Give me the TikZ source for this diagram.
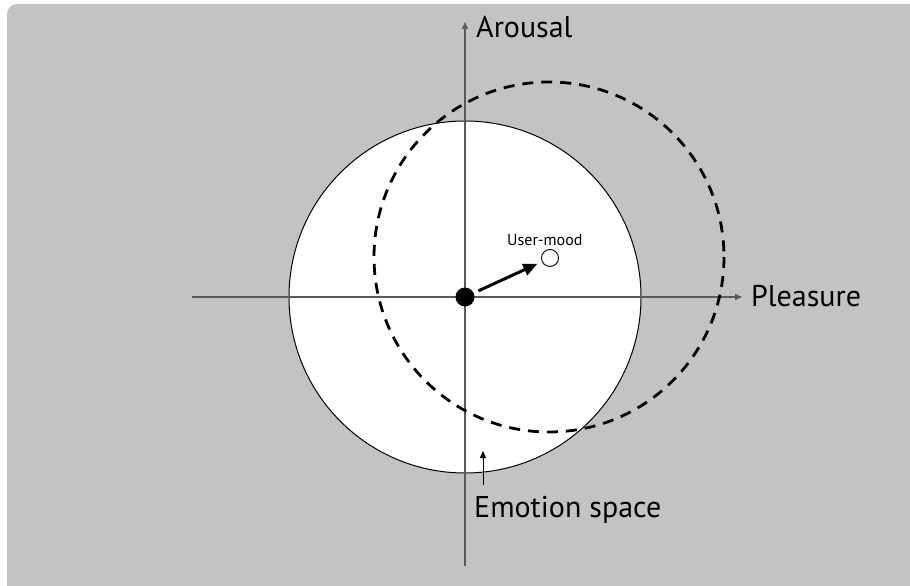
\documentclass[tikz,border=0pt]{standalone}
\usepackage{fontspec}
\setmainfont{PT Sans}
\usetikzlibrary{arrows.meta}
\definecolor{bggray}{HTML}{C2C3C2}
\definecolor{axisgray}{HTML}{5A5A5A}
\tikzset{
  axisline/.style={draw=axisgray, line width=1.3pt, -{Triangle[length=7pt,width=6pt]}},
  bigtext/.style={font=\fontsize{30}{33}\selectfont, inner sep=0pt},
  smalltext/.style={font=\fontsize{16}{18}\selectfont, inner sep=0pt},
  dashcircle/.style={draw=black, line width=2.8pt, dash pattern=on 11pt off 8pt},
}
\begin{document}
\begin{tikzpicture}[x=1pt,y=-1pt]
\useasboundingbox (0,0) rectangle (910,586);
\fill[bggray, rounded corners=10pt] (7,4) rectangle (925,600);
% emotion space circle
\draw[fill=white, line width=1pt] (465,297) circle[radius=176];
% axes
\coordinate (xl) at (192,297);
\coordinate (xr) at (742,297);
\coordinate (yb) at (465,566);
\coordinate (yt) at (465,22);
\draw[axisline] (xl) -- (xr);
\draw[axisline] (yb) -- (yt);
% dashed circle
\draw[dashcircle] (549,257) circle[radius=175];
% labels
\node[bigtext, anchor=base west] (arousal) at (476,38) {Arousal};
\node[bigtext, anchor=base west] (pleasure) at (751,306) {Pleasure};
\node[bigtext, anchor=base west] (emotion) at (474,517) {Emotion space};
\node[smalltext, anchor=base west] (usermood) at (507,245) {User-mood};
% dot and mood
\node[circle, fill=black, minimum size=19pt, inner sep=0pt] (dot) at (465,297) {};
\node[circle, draw=black, fill=white, line width=0.9pt, minimum size=17pt, inner sep=0pt] (mood) at (550,258) {};
\draw[line width=3pt, -{Triangle[length=14pt,width=12pt]}, shorten <=5pt, shorten >=5pt] (dot) -- (mood);
% emotion arrow
\coordinate (ea) at (483,485);
\coordinate (eb) at (483,451);
\draw[line width=0.9pt, -{Triangle[length=7pt,width=6pt]}] (ea) -- (eb);
\end{tikzpicture}
\end{document}
